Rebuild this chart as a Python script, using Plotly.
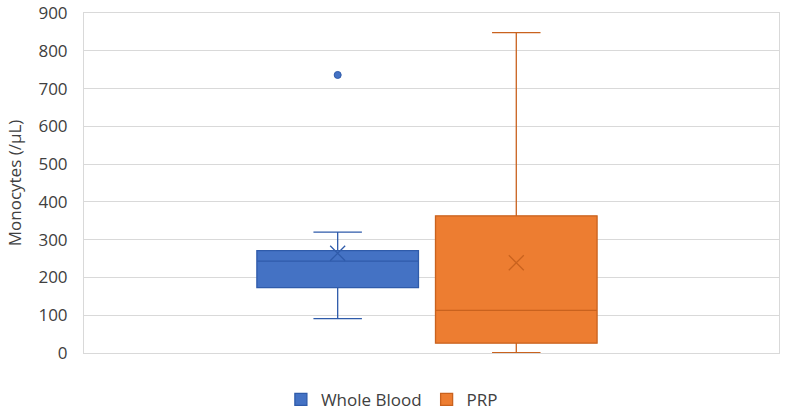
import plotly.graph_objects as go

series_names = ["Whole Blood", "PRP"]
q1_vals = [173, 26]
median_vals = [243, 113]
q3_vals = [271, 363]
lower_whisker = [91, 1]
upper_whisker = [320, 848]
mean_vals = [264, 239]
outliers = [[736], []]
fill_colors = ["#4472C4", "#ED7D31"]
line_colors = ["#2F5BAA", "#C9621E"]
positions = [0.365, 0.622]
box_width = 0.2325

fig = go.Figure()
for i, name in enumerate(series_names):
    fig.add_trace(go.Box(
        name=name, x=[positions[i]],
        q1=[q1_vals[i]], median=[median_vals[i]], q3=[q3_vals[i]],
        lowerfence=[lower_whisker[i]], upperfence=[upper_whisker[i]],
        width=box_width, whiskerwidth=0.3,
        fillcolor=fill_colors[i],
        line=dict(color=line_colors[i], width=1.3),
        boxpoints=False, showlegend=True,
    ))
for i, name in enumerate(series_names):
    fig.add_trace(go.Scatter(
        x=[positions[i]], y=[mean_vals[i]], mode="markers",
        marker=dict(symbol="x-thin-open", size=15, color=line_colors[i],
                    line=dict(color=line_colors[i], width=1.3)),
        showlegend=False, hoverinfo="skip",
    ))
    if outliers[i]:
        fig.add_trace(go.Scatter(
            x=[positions[i]] * len(outliers[i]), y=outliers[i], mode="markers",
            marker=dict(symbol="circle", size=7, color=fill_colors[i],
                        line=dict(color=line_colors[i], width=1)),
            showlegend=False, hoverinfo="skip",
        ))

fig.update_layout(
    width=785, height=414,
    margin=dict(l=84, r=6, t=13, b=61, autoexpand=False),
    paper_bgcolor="white", plot_bgcolor="white",
    font=dict(family="Open Sans, Liberation Sans, sans-serif", size=17, color="#404040"),
    showlegend=True,
    legend=dict(orientation="h", x=0.443, xanchor="center", y=-0.138, yanchor="middle",
                font=dict(size=17, color="#404040"), itemwidth=30),
    xaxis=dict(range=[0, 1], showticklabels=False, showgrid=False, zeroline=False,
               showline=True, linecolor="#D9D9D9", mirror=True, automargin=False),
    yaxis=dict(range=[0, 900], dtick=100, showgrid=True, gridcolor="#D9D9D9",
               gridwidth=1.3, zeroline=False, showline=True, linecolor="#D9D9D9",
               mirror=True, ticks="", ticklabelstandoff=12, automargin=False,
               ticklabeloverflow="allow",
               tickfont=dict(size=17, color="#404040"),
               title=dict(text="Monocytes (/µL)", font=dict(size=17, color="#404040"),
                          standoff=12)),
)
fig.write_html("out.html", config={"displayModeBar": False},
               post_script="document.body.style.margin='0';document.body.style.overflow='hidden';")
